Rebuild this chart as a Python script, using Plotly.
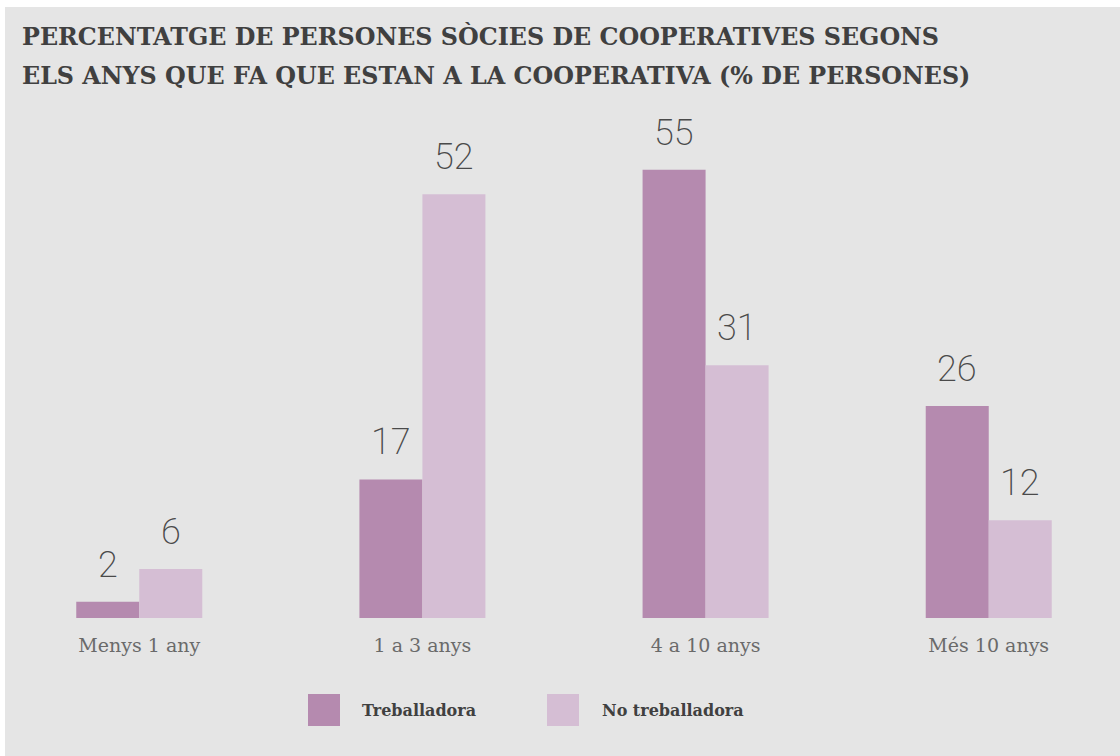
import plotly.graph_objects as go

categories = ["Menys 1 any", "1 a 3 anys", "4 a 10 anys", "Més 10 anys"]
treballadora = [2, 17, 55, 26]
no_treballadora = [6, 52, 31, 12]
series_names = ["Treballadora", "No treballadora"]
title_lines = ["PERCENTATGE DE PERSONES SÒCIES DE COOPERATIVES SEGONS",
               "ELS ANYS QUE FA QUE ESTAN A LA COOPERATIVA (% DE PERSONES)"]

C_DARK = "#b58aaf"
C_LIGHT = "#d5bed4"
BG = "#e5e5e5"
W, H = 1120, 756
ML, MR, MT, MB = 26, 18, 129, 138
PW, PH = W - ML - MR, H - MT - MB

def px_x(px):
    return (px - ML) / PW

def px_y(py):
    return (H - MB - py) / PH

fig = go.Figure()
fig.add_trace(go.Bar(x=categories, y=treballadora, name=series_names[0],
                     marker=dict(color=C_DARK, line=dict(width=0)), showlegend=False))
fig.add_trace(go.Bar(x=categories, y=no_treballadora, name=series_names[1],
                     marker=dict(color=C_LIGHT, line=dict(width=0)), showlegend=False))

bar_px = 0.445 * (PW / 3.8) / 2
annotations = []
for vals, sh in ((treballadora, -bar_px / 2), (no_treballadora, bar_px / 2)):
    for c, v in zip(categories, vals):
        annotations.append(dict(x=c, y=v, xref="x", yref="y", text=str(v), showarrow=False,
                                yanchor="bottom", xanchor="center", xshift=sh, yshift=14,
                                font=dict(family="Roboto", size=36, color="#4a4a4a", weight=200)))

# title (two lines, wide line spacing)
for ty, line in zip((36, 76), title_lines):
    annotations.append(dict(xref="paper", yref="paper", x=px_x(20), y=px_y(ty), xanchor="left",
                            yanchor="middle", align="left", showarrow=False, text=line,
                            font=dict(family="DejaVu Serif", size=23.8, color="#404040", weight="bold")))

shapes = [dict(type="rect", xref="paper", yref="paper", layer="below",
               x0=px_x(5), x1=px_x(1125), y0=px_y(7), y1=px_y(760),
               fillcolor=BG, line=dict(width=0))]

# legend
for (lx, tx), col, name in zip(((308, 360), (547, 600)), (C_DARK, C_LIGHT), series_names):
    shapes.append(dict(type="rect", xref="paper", yref="paper", x0=px_x(lx), x1=px_x(lx + 32),
                       y0=px_y(694), y1=px_y(726), fillcolor=col, line=dict(width=0)))
    annotations.append(dict(xref="paper", yref="paper", x=px_x(tx), y=px_y(710), xanchor="left",
                            yanchor="middle", showarrow=False, text=name,
                            font=dict(family="DejaVu Serif", size=16, color="#404040", weight="bold")))

fig.update_layout(
    width=W, height=H, margin=dict(l=ML, r=MR, t=MT, b=MB, autoexpand=False),
    paper_bgcolor="white", plot_bgcolor="rgba(0,0,0,0)",
    barmode="group", bargap=0.555, bargroupgap=0,
    xaxis=dict(range=[-0.4, 3.4], showgrid=False, zeroline=False, showline=False, ticks="",
               tickfont=dict(family="DejaVu Serif", size=19, color="#6a6a6a"), ticklabelstandoff=14),
    yaxis=dict(range=[0, 60], visible=False, showgrid=False, zeroline=False),
    annotations=annotations, shapes=shapes, showlegend=False,
)
fig.write_html("out.html", config={"displayModeBar": False},
               post_script="document.body.style.margin='0';document.body.style.overflow='hidden';")
